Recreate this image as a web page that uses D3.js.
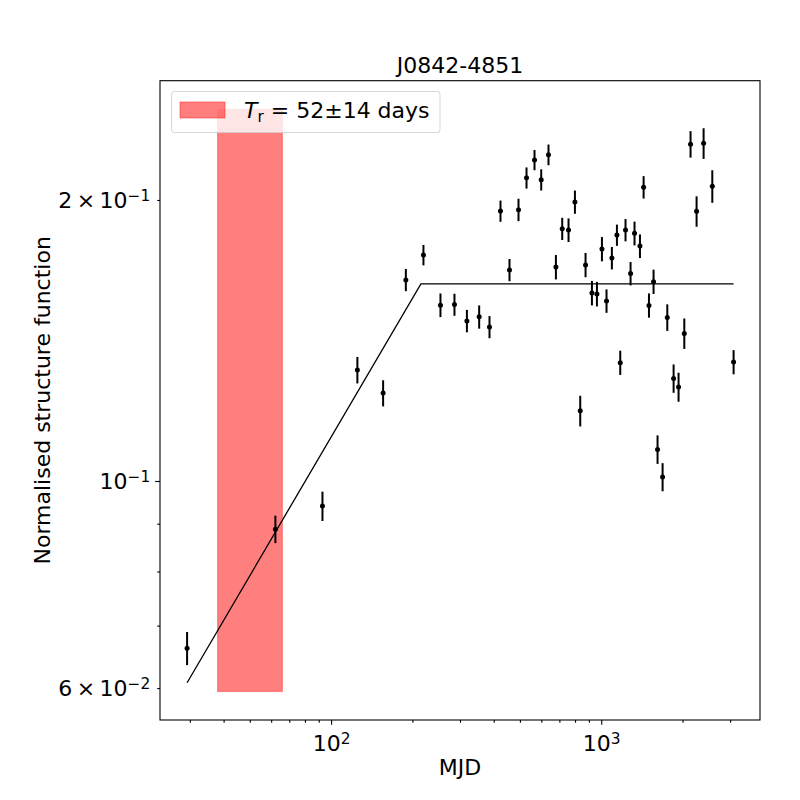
<!DOCTYPE html>
<html>
<head>
<meta charset="utf-8">
<script src="https://cdn.jsdelivr.net/npm/d3@7"></script>
<style>
  body { margin: 0; background: #fff; }
  svg text { font-family: "DejaVu Sans", sans-serif; fill: #000; }
</style>
</head>
<body>
<div id="chart"></div>
<script>
// data
const lag = [29.3, 62.2, 92.9, 125.1, 155.8, 189.1, 219.7, 254.0, 286.2, 318.2,
  353.3, 385.8, 423.7, 457.5, 494.0, 528.9, 566.2, 599.5, 637.9, 679.5,
  717.1, 756.7, 799.1, 836.1, 874.8, 923.8, 964.0, 1006, 1046, 1095,
  1143, 1176, 1230, 1284, 1328, 1391, 1435, 1502, 1562, 1616,
  1687, 1756, 1853, 1933, 2030, 2141, 2254, 2393, 2577, 3090];
const sf = [0.0662, 0.0888, 0.0940, 0.1315, 0.1242, 0.1642, 0.1746, 0.1543, 0.1545, 0.1484,
  0.1499, 0.1462, 0.1946, 0.1683, 0.1952, 0.2112, 0.2207, 0.2102, 0.2236, 0.1695,
  0.1863, 0.1857, 0.1990, 0.1189, 0.1704, 0.1590, 0.1586, 0.1772, 0.1559, 0.1733,
  0.1834, 0.1339, 0.1857, 0.1668, 0.1842, 0.1785, 0.2064, 0.1542, 0.1635, 0.1081,
  0.1010, 0.1497, 0.1288, 0.1261, 0.1439, 0.2295, 0.1945, 0.2300, 0.2069, 0.1341];
const sfErr = [0.0027, 0.0030, 0.0034, 0.0043, 0.0040, 0.0045, 0.0044, 0.0045, 0.0042, 0.0041,
  0.0043, 0.0040, 0.0051, 0.0046, 0.0054, 0.0055, 0.0055, 0.0055, 0.0057, 0.0051,
  0.0051, 0.0054, 0.0057, 0.0045, 0.0051, 0.0048, 0.0048, 0.0053, 0.0045, 0.0048,
  0.0048, 0.0040, 0.0051, 0.0048, 0.0054, 0.0052, 0.0057, 0.0046, 0.0049, 0.0038,
  0.0035, 0.0049, 0.0045, 0.0045, 0.0054, 0.0075, 0.0073, 0.0087, 0.0083, 0.0040];

// broken power-law model vertices
const modelX = [29.3, 215, 3090];
const modelY = [0.0608, 0.1626, 0.1626];

// timescale band: 52 +/- 14 days
const tr = 52, trErr = 14;
const bandY = [0.0595, 0.25];

const xLim = [23.26, 3870];
const yLim = [0.05546, 0.2684];
const xMajor = [100, 1000];
const xMinor = [30, 40, 50, 60, 70, 80, 90, 200, 300, 400, 500, 600, 700, 800, 900, 2000, 3000];
const yMajor = [0.1];
const yMinor = [0.06, 0.07, 0.08, 0.09, 0.2];

const title = "J0842-4851";

//////////////
// LAYOUT   //
//////////////

const svgWidth = 800, svgHeight = 800;
const mLeft = 160, mRight = 760, mTop = 80.7, mBottom = 720;
const fs = 22;

const svg = d3.select("#chart").append("svg")
  .attr("width", svgWidth)
  .attr("height", svgHeight);

const x = d3.scaleLog().domain(xLim).range([mLeft, mRight]);
const y = d3.scaleLog().domain(yLim).range([mBottom, mTop]);

// power label like 10^{-1}
function powLabel(sel, base, exp) {
  sel.text("");
  sel.append("tspan").text(base);
  sel.append("tspan").attr("dy", "-0.45em").attr("font-size", "0.7em").text(exp);
}

const plot = svg.append("g");

// red band
plot.append("rect")
  .attr("x", x(tr - trErr))
  .attr("width", x(tr + trErr) - x(tr - trErr))
  .attr("y", y(bandY[1]))
  .attr("height", y(bandY[0]) - y(bandY[1]))
  .attr("fill", "red").attr("fill-opacity", 0.5)
  .attr("stroke", "red").attr("stroke-opacity", 0.35).attr("stroke-width", 1.2);

// model line
const line = d3.line().x(d => x(d[0])).y(d => y(d[1]));
plot.append("path")
  .datum(modelX.map((v, i) => [v, modelY[i]]))
  .attr("d", line)
  .attr("fill", "none")
  .attr("stroke", "#000")
  .attr("stroke-width", 1.3);

// error bars + points
const pts = lag.map((v, i) => ({ x: v, y: sf[i], e: sfErr[i] }));
plot.selectAll(".err").data(pts).enter().append("line")
  .attr("class", "err")
  .attr("x1", d => x(d.x)).attr("x2", d => x(d.x))
  .attr("y1", d => y(d.y - d.e)).attr("y2", d => y(d.y + d.e))
  .attr("stroke", "#000").attr("stroke-width", 2);
plot.selectAll(".pt").data(pts).enter().append("circle")
  .attr("class", "pt")
  .attr("cx", d => x(d.x)).attr("cy", d => y(d.y))
  .attr("r", 2.5).attr("fill", "#000");

//////////
// AXES //
//////////

const major = 4.86, minor = 2.78, pad = 4.86;

svg.append("g")
  .attr("transform", "translate(0," + mBottom + ")")
  .call(d3.axisBottom(x).tickValues(xMinor).tickSize(minor).tickFormat(""));
const gxMajor = svg.append("g")
  .attr("transform", "translate(0," + mBottom + ")")
  .call(d3.axisBottom(x).tickValues(xMajor).tickSize(major).tickPadding(pad));
gxMajor.selectAll(".tick text")
  .attr("font-size", fs).attr("dy", "0.95em")
  .each(function (d) { powLabel(d3.select(this), "10", String(Math.round(Math.log10(d)))); });

const gyMinor = svg.append("g")
  .attr("transform", "translate(" + mLeft + ",0)")
  .call(d3.axisLeft(y).tickValues(yMinor).tickSize(minor).tickPadding(pad + major - minor));
gyMinor.selectAll(".tick text")
  .attr("font-size", fs).attr("dy", "0.35em")
  .each(function (d) {
    const s = d3.select(this);
    if (d === 0.06) powLabel(s, "6\u2009×\u200910", "\u22122");
    else if (d === 0.2) powLabel(s, "2\u2009×\u200910", "\u22121");
    else s.text("");
  });
const gyMajor = svg.append("g")
  .attr("transform", "translate(" + mLeft + ",0)")
  .call(d3.axisLeft(y).tickValues(yMajor).tickSize(major).tickPadding(pad));
gyMajor.selectAll(".tick text")
  .attr("font-size", fs).attr("dy", "0.35em")
  .each(function () { powLabel(d3.select(this), "10", "\u22121"); });

svg.selectAll(".domain").remove();
svg.selectAll(".tick line").attr("stroke", "#000").attr("stroke-width", 1.1);

// frame
svg.append("rect")
  .attr("x", mLeft).attr("y", mTop)
  .attr("width", mRight - mLeft).attr("height", mBottom - mTop)
  .attr("fill", "none").attr("stroke", "#000").attr("stroke-width", 1.1);

// labels
svg.append("text")
  .attr("x", (mLeft + mRight) / 2).attr("y", 73)
  .attr("text-anchor", "middle").attr("font-size", fs)
  .text(title);

svg.append("text")
  .attr("x", (mLeft + mRight) / 2).attr("y", 775)
  .attr("text-anchor", "middle").attr("font-size", fs)
  .text("MJD");

svg.append("text")
  .attr("transform", "translate(50," + (mTop + mBottom) / 2 + ") rotate(-90)")
  .attr("text-anchor", "middle").attr("font-size", fs)
  .text("Normalised structure function");

////////////
// LEGEND //
////////////

const lg = svg.append("g");
lg.append("rect")
  .attr("x", 171.5).attr("y", 91.5).attr("width", 268.5).attr("height", 41).attr("rx", 3)
  .attr("fill", "#fff").attr("fill-opacity", 0.8)
  .attr("stroke", "#ccc").attr("stroke-opacity", 0.8);
lg.append("rect")
  .attr("x", 180).attr("y", 102).attr("width", 45).attr("height", 16)
  .attr("fill", "red").attr("fill-opacity", 0.5)
  .attr("stroke", "red").attr("stroke-opacity", 0.35).attr("stroke-width", 1.2);
const lt = lg.append("text").attr("x", 244).attr("y", 117.5).attr("font-size", fs);
lt.append("tspan").attr("font-style", "italic").text("T");
lt.append("tspan").attr("font-size", "0.7em").attr("dy", "0.3em").text("r");
lt.append("tspan").attr("dy", "-0.21em").text(" = " + tr + "±" + trErr + " days");
</script>
</body>
</html>
